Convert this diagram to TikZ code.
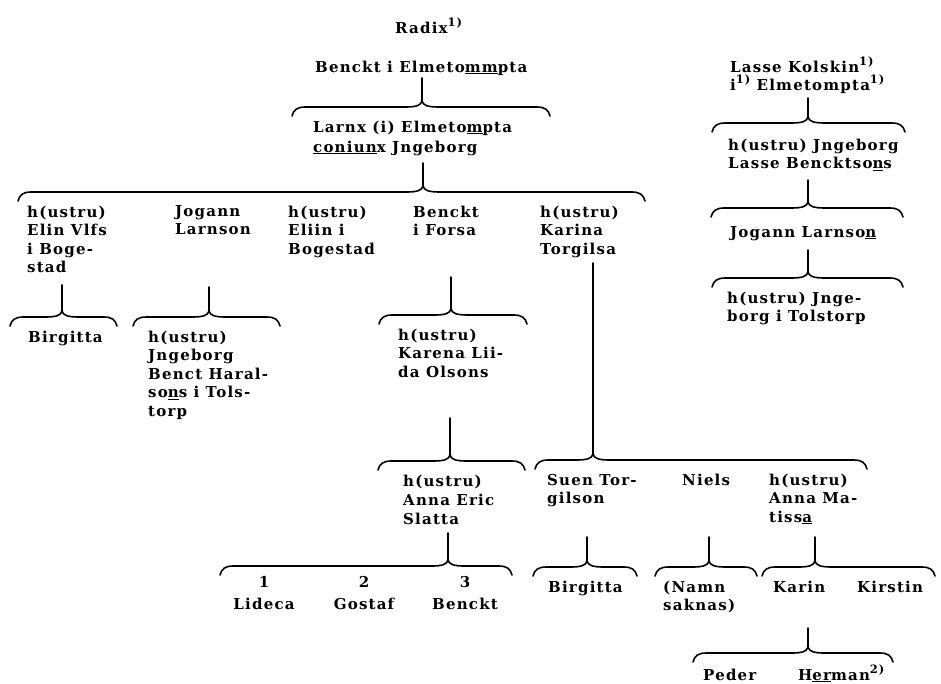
\documentclass[tikz,border=0pt]{standalone}
\usepackage{fontspec}
\setmainfont{DejaVu Serif}[LetterSpace=8]
\newcommand\Lines[1]{\begin{tabular}[t]{@{}l@{}}#1\end{tabular}}
\newcommand\CLines[1]{\begin{tabular}[t]{@{}c@{}}#1\end{tabular}}
\newcommand\Sup[1]{\raisebox{7pt}{\fontsize{11.5}{11.5}\selectfont #1}}
\newcommand\Brace[5]{% name cx xl xr yb
  \coordinate (#1) at (#2,#5-6);
  \draw[line] (#3,#5+9) .. controls (#3+1.5,#5+3) and (#3+5,#5) .. (#3+13,#5)
    -- (#2-17,#5) .. controls (#2-6,#5) and (#2-1,#5-1.5) .. (#1)
    .. controls (#2+1,#5-1.5) and (#2+6,#5) .. (#2+17,#5)
    -- (#4-13,#5) .. controls (#4-5,#5) and (#4-1.5,#5+3) .. (#4,#5+9);
}
\tikzset{
  txt/.style={anchor=base west, inner sep=0pt, font=\fontsize{15}{18.5}\selectfont\bfseries},
  ctxt/.style={txt, anchor=base},
  line/.style={line width=1.6pt, line cap=round, line join=round},
}
\begin{document}
\begin{tikzpicture}[x=1pt,y=-1pt]
\useasboundingbox[fill=white] (0,0) rectangle (941,683);
% ---- main tree texts
\node[txt] (radix) at (395,33) {Radix\Sup{1)}};
\node[txt] (n0) at (315,72) {Benckt i Elmeto\underline{mm}pta};
\node[txt] (n1) at (313,132) {\Lines{Larnx (i) Elmeto\underline{m}pta\\[1.5pt]\underline{coniun}x Jngeborg}};
\node[txt] (c1) at (27,217) {\Lines{h(ustru)\\Elin Vlfs\\i Boge-\\stad}};
\node[txt] (c2) at (175,216) {\Lines{Jogann\\Larnson}};
\node[txt] (c3) at (288,217) {\Lines{h(ustru)\\Eliin i\\Bogestad}};
\node[txt] (c4) at (413,217) {\Lines{Benckt\\i Forsa}};
\node[txt] (c5) at (540,217) {\Lines{h(ustru)\\Karina\\Torgilsa}};
\node[txt] (g1) at (28,342) {Birgitta};
\node[txt] (g2) at (148,342) {\Lines{h(ustru)\\Jngeborg\\Benct Haral-\\so\underline{n}s i Tols-\\torp}};
\node[txt] (g4) at (398,340) {\Lines{h(ustru)\\Karena Lii-\\da Olsons}};
\node[txt] (h4) at (403,486) {\Lines{h(ustru)\\[0.5pt]Anna Eric\\[0.5pt]Slatta}};
\node[txt] (k1) at (547,485) {\Lines{Suen Tor-\\gilson}};
\node[txt] (k2) at (682,485) {Niels};
\node[txt] (k3) at (769,485) {\Lines{h(ustru)\\Anna Ma-\\tiss\underline{a}}};
\node[ctxt] (l1) at (264,587) {\CLines{1\\[3.5pt]Lideca}};
\node[ctxt] (l2) at (364,587) {\CLines{2\\[3.5pt]Gostaf}};
\node[ctxt] (l3) at (465,587) {\CLines{3\\[3.5pt]Benckt}};
\node[txt] (m1) at (548,592) {Birgitta};
\node[txt] (m2) at (663,592) {\Lines{(Namn\\saknas)}};
\node[txt] (m3) at (773,592) {Karin};
\node[txt] (m4) at (857,592) {Kirstin};
\node[txt] (p1) at (703,680) {Peder};
\node[txt] (p2) at (798,680) {H\underline{er}man\Sup{2)}};
% ---- right column
\node[txt] (r0) at (730,72) {\Lines{Lasse Kolskin\Sup{1)}\\[-2.5pt]i\Sup{1)} Elmetompta\Sup{1)}}};
\node[txt] (r1) at (728,150) {\Lines{h(ustru) Jngeborg\\Lasse Bencktso\underline{n}s}};
\node[txt] (r2) at (730,237) {Jogann Larnso\underline{n}};
\node[txt] (r3) at (727,303) {\Lines{h(ustru) Jnge-\\borg i Tolstorp}};
% ---- braces
\Brace{b1}{422}{292}{550}{107}
\Brace{b2}{423}{18}{645}{192}
\Brace{b3}{62}{10}{117}{317}
\Brace{b4}{209}{133}{280}{317}
\Brace{b5}{451}{379}{527}{315}
\Brace{b6}{450}{378}{525}{461}
\Brace{b7}{593}{535}{867}{460}
\Brace{b8}{448}{220}{512}{566}
\Brace{b9}{587}{533}{637}{567}
\Brace{b10}{709}{655}{757}{567}
\Brace{b11}{815}{762}{935}{567}
\Brace{b12}{808}{693}{893}{653}
\Brace{r1b}{808}{712}{905}{123}
\Brace{r2b}{808}{711}{903}{208}
\Brace{r3b}{808}{712}{903}{278}
% ---- stems
\coordinate (s1) at (422,78);
\coordinate (s2) at (423,163);
\coordinate (s3) at (62,285);
\coordinate (s4) at (209,287);
\coordinate (s5) at (451,277);
\coordinate (s6) at (450,418);
\coordinate (s7) at (593,263);
\coordinate (s8) at (448,533);
\coordinate (s9) at (587,537);
\coordinate (s10) at (709,537);
\coordinate (s11) at (815,537);
\coordinate (s12) at (808,628);
\coordinate (sr1) at (808,98);
\coordinate (sr2) at (808,180);
\coordinate (sr3) at (808,250);
\foreach \a/\b in {s1/b1,s2/b2,s3/b3,s4/b4,s5/b5,s6/b6,s7/b7,s8/b8,s9/b9,s10/b10,s11/b11,s12/b12,sr1/r1b,sr2/r2b,sr3/r3b}
  \draw[line] (\a) -- (\b);
\end{tikzpicture}
\end{document}
